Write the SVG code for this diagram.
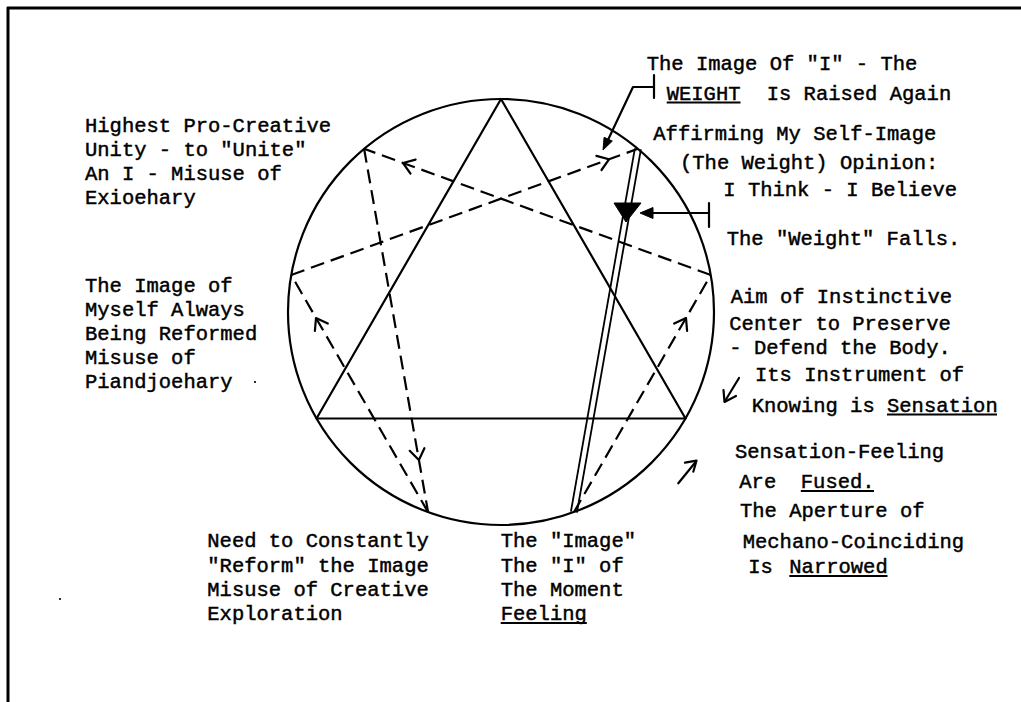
<svg xmlns="http://www.w3.org/2000/svg" width="1021" height="702" viewBox="0 0 1021 702">
<style>
.t{font-family:"Liberation Mono","Courier New",monospace;font-size:20.5px;fill:#000;stroke:#000;stroke-width:0.45;}
.s{fill:none;stroke:#000;stroke-width:2.2;stroke-linecap:round;stroke-linejoin:round;}
.d{fill:none;stroke:#000;stroke-width:2.2;stroke-dasharray:14 7;}
.dl{fill:none;stroke:#000;stroke-width:1.8;}
.u{stroke:#000;stroke-width:1.8;}
.f{fill:#000;stroke:#000;stroke-width:1;stroke-linejoin:round;}
</style>
<rect width="1021" height="702" fill="#fff"/>
<g id="frame">
<line x1="7" y1="8" x2="1021" y2="8" stroke="#000" stroke-width="3"/>
<line x1="8" y1="7" x2="8" y2="702" stroke="#000" stroke-width="3"/>
<circle cx="60" cy="599" r="1.1" fill="#000"/>
<circle cx="255" cy="382" r="1.1" fill="#000"/>
</g>
<g id="enneagram">
<circle cx="501" cy="312" r="213" class="s"/>
<polygon points="501,99 685.5,418.5 316.5,418.5" class="s"/>
</g>
<g id="connectors">
<line x1="291.2" y1="275" x2="637.9" y2="148.8" class="d"/>
<line x1="710.8" y1="275" x2="364.1" y2="148.8" class="d"/>
<line x1="364.1" y1="148.8" x2="428.1" y2="512.2" class="d"/>
<line x1="428.1" y1="512.2" x2="291.2" y2="275" class="d"/>
<line x1="573.9" y1="512.2" x2="710.8" y2="275" class="d"/>
<line x1="634.9" y1="148.3" x2="570.9" y2="511.7" class="dl"/>
<line x1="640.9" y1="149.3" x2="576.9" y2="512.7" class="dl"/>
<polyline points="596.4,155.9 609,159.3 601.5,170" class="s"/>
<polyline points="410.5,173.7 403,163 415.6,159.6" class="s"/>
<polyline points="424.4,448.2 418.9,460 409.7,450.8" class="s"/>
<polyline points="314.9,331 316,318 327.8,323.5" class="s"/>
<polyline points="674.2,323.5 686,318 687.1,331" class="s"/>
<polygon points="614,203 641,203 626,222" class="f"/>
<line x1="654" y1="75" x2="654" y2="98" class="s"/>
<polyline points="654,87 633,87 607,142" class="s"/>
<polygon points="603,150 612.3,141.1 604.1,137.3" class="f"/>
<line x1="709" y1="203" x2="709" y2="227" class="s"/>
<line x1="709" y1="213" x2="650" y2="213" class="s"/>
<polygon points="640,213 653,207.5 653,218.5" class="f"/>
<line x1="739" y1="378" x2="725" y2="401" class="s"/>
<polyline points="723.5,390 724.5,402 736,396" class="s"/>
<line x1="678.3" y1="483.3" x2="695" y2="462.7" class="s"/>
<polyline points="685,462.7 696.5,460.7 693.3,471.7" class="s"/>
</g>
<g id="label-exioehary">
<text class="t" x="85" y="132">Highest Pro-Creative</text>
<text class="t" x="85" y="156">Unity - to "Unite"</text>
<text class="t" x="85" y="180">An I - Misuse of</text>
<text class="t" x="85" y="204">Exioehary</text>
</g>
<g id="label-piandjoehary">
<text class="t" x="85" y="292">The Image of</text>
<text class="t" x="85" y="315.5">Myself Always</text>
<text class="t" x="85" y="339.5">Being Reformed</text>
<text class="t" x="85" y="363.5">Misuse of</text>
<text class="t" x="85" y="387.5">Piandjoehary</text>
</g>
<g id="label-weight-raised">
<text class="t" x="646.7" y="70">The Image Of "I" - The</text>
<text class="t" y="100"><tspan x="666.7">WEIGHT</tspan><tspan x="766.7">Is Raised Again</tspan></text>
<line x1="666.7" y1="102.5" x2="740.5" y2="102.5" class="u"/>
</g>
<g id="label-affirming">
<text class="t" x="653.3" y="140">Affirming My Self-Image</text>
<text class="t" x="680" y="169">(The Weight) Opinion:</text>
<text class="t" x="723.3" y="195.7">I Think - I Believe</text>
</g>
<g id="label-weight-falls">
<text class="t" x="726.7" y="245">The "Weight" Falls.</text>
</g>
<g id="label-instinctive">
<text class="t" x="730.7" y="303.3">Aim of Instinctive</text>
<text class="t" x="729.3" y="330">Center to Preserve</text>
<text class="t" x="729.3" y="354">- Defend the Body.</text>
<text class="t" x="755" y="381">Its Instrument of</text>
<text class="t" x="751.7" y="411.7">Knowing is Sensation</text>
<line x1="887" y1="414.5" x2="997" y2="414.5" class="u"/>
</g>
<g id="label-fused">
<text class="t" x="735" y="458.3">Sensation-Feeling</text>
<text class="t" y="488.3"><tspan x="739.3">Are</tspan><tspan x="800.8">Fused.</tspan></text>
<line x1="800.8" y1="491" x2="874" y2="491" class="u"/>
<text class="t" x="740" y="517.3">The Aperture of</text>
<text class="t" x="742.7" y="548.3">Mechano-Coinciding</text>
<text class="t" y="573.3"><tspan x="748.3">Is</tspan><tspan x="789.3">Narrowed</tspan></text>
<line x1="789.3" y1="576" x2="887.5" y2="576" class="u"/>
</g>
<g id="label-creative-exploration">
<text class="t" x="207.3" y="547">Need to Constantly</text>
<text class="t" x="207.3" y="571.7">"Reform" the Image</text>
<text class="t" x="207.3" y="596">Misuse of Creative</text>
<text class="t" x="207.3" y="620">Exploration</text>
</g>
<g id="label-feeling">
<text class="t" x="500.7" y="547">The "Image"</text>
<text class="t" x="500.7" y="571.7">The "I" of</text>
<text class="t" x="500.7" y="596">The Moment</text>
<text class="t" x="500.7" y="620">Feeling</text>
<line x1="500.7" y1="623" x2="586.8" y2="623" class="u"/>
</g>
</svg>
